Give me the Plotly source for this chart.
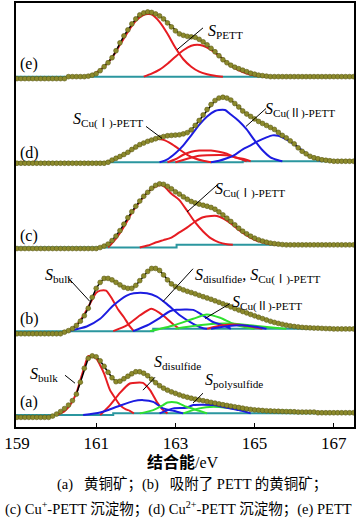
import plotly.graph_objects as go

# ---------------- data ----------------
# binding energy grid of the measured points (eV)
energy = [round(159.0 + 0.1 * i, 1) for i in range(86)]
tick_vals = [159, 161, 163, 165, 167]
tick_text = ["159", "161", "163", "165", "167"]

# measured intensity (dots), relative to each spectrum's left baseline (a.u.)
dots_a = [-2.3, -2.3, -2.3, -2.3, -2.3, -2.3, -2.3, -2.3, -2.3,
          -1, 1, 3.5, 6.5, 10, 14.5, 21, 33, 47, 57, 59.5, 58.5, 54.5, 49, 43, 37.5,
          33.5, 34, 36.5, 39, 41.5, 43.5, 43.5, 42, 39.5, 36, 32.5, 29.5, 27, 25, 23.3,
          21.8, 20.3, 19, 17.9, 16.9, 16, 15.2, 14.4, 13.6, 12.8, 12, 11.2, 10.4, 9.7,
          9, 8.3, 7.6, 6.9, 6.2, 5.7, 5.2, 4.9, 4.6, 4.3, 4.1, 3.9, 3.8, 3.6, 3.5, 3.4, 3.3,
          3, 3, 3, 3, 3,
          2.3, 2.3, 2.3, 2.3, 2.3, 2.3, 2.3, 2.3, 2.3, 2.3]
dots_b = [-2.6, -2.6, -2.6, -2.6, -2.6, -2.6, -2.6, -2.6, -2.6, -2.6, -2.6, -2.6,
          -1, 0.5, 2.5, 5.7, 10, 15.5, 23, 34, 43, 49, 53, 53, 51.5, 49, 46.5, 44, 43,
          43, 46, 50.7, 55.5, 60, 63, 63, 61, 56.5, 51.5, 47.5, 44.8, 43, 41.5, 40, 38.8,
          37.5, 36, 34.6, 33.3, 32, 30.5, 29, 27.5, 26, 24.3, 22.7, 21.2, 19.7, 18.3,
          16.8, 15.4, 14, 12.6, 11.2, 9.9, 8.8, 7.8, 6.9, 6, 5.3, 4.7, 4.2, 3.8, 3.5,
          3.3, 3.1, 3, 2.8, 2.6, 2.5,
          2.2, 2.2, 2.2, 2.2, 2.2, 2.2]
dots_c = [-1, -1, -1, -1, -1, -1, -1, -1, -1, -1, -1, -1, -1, -1, -1, -1, -1, -1, -1, -1, -1,
          0, 1.5, 3.5, 7, 11.5, 17, 23.5, 30, 36, 41.5, 46.7, 51.5, 55.5, 59.5, 62.5, 64,
          63.5, 61.5, 59, 56, 53.7, 51, 48.5, 46.3, 44.8, 43.6, 42.5, 41.5, 40.3, 38.5,
          35.8, 32.8, 29.5, 26.2, 22.8, 19.4, 16.4, 13.8, 11.4, 9.4, 7.8, 6.5, 5.4, 4.5,
          3.9, 3.4, 3,
          2.7, 2.7, 2.7, 2.7, 2.7, 2.7, 2.7, 2.7, 2.7, 2.7, 2.7, 2.7, 2.7, 2.7, 2.7, 2.7, 2.7, 2.7]
dots_d = [-1, -1, -1, -1, -1, -1, -1, -1, -1, -1, -1, -1, -1, -1, -1, -1, -1, -1, -1, -1,
          -1, -1, -1,
          0, 2.2, 4, 5.8, 7.8, 10, 12.8, 15.3, 17.7, 19.3, 21, 22.3, 23.6, 24.8, 25.8,
          26.6, 27, 27.3, 27.6, 28.5, 29.8, 32.5, 37, 42, 47.5, 53, 58, 62, 64.5, 65.3,
          64.5, 62.5, 59, 55.5, 51.5, 48.5, 46, 43.5, 41, 39, 37, 35, 33, 30, 27, 24.5,
          21.5, 18.5, 14.5, 11, 8.5, 6, 4.5, 3.5, 2.5, 2, 1.5, 1,
          1, 1, 1, 1, 1]
dots_e = [-2, -2, -2, -2, -2, -2, -2, -2, -2, -2, -2, -2, -2,
          0, 0, 0, 0, 0,
          0.5, 1.5, 3, 6, 10, 14, 19, 26, 34, 41, 47, 53, 58, 62, 64, 65, 64.5, 63, 61,
          58, 54, 50, 46, 43, 41.5, 40.5, 40, 39.5, 37.5, 35, 32, 28.5, 25, 21, 17, 14,
          11.5, 9.5, 8, 6.5, 5, 3.5, 2.5, 1.5, 1, 0.5,
          0, 0, 0, 0, 0, 0, 0, 0, 0, 0, 0, 0, 0, 0, 0, 0, 0, 0, 0, 0, 0, 0]

# Shirley-type background: (energy of step, step height)
bg_a = (161.43, 1.7)
bg_b = (162.44, 2.4)
bg_c = (163.03, 2.7)
bg_d = (164.70, 1.0)
bg_e = (167.60, 0.0)

# fitted envelope range (eV)
fit_a = (160.5, 165.2)
fit_b = (160.2, 166.6)
fit_c = (161.1, 165.8)
fit_d = (161.3, 166.8)
fit_e = (160.8, 165.3)

# fitted components: (eV, height above background)
a_bulk = [(160.0, 0), (160.2, 4), (160.34, 10), (160.5, 22), (160.6, 35), (160.7, 48),
          (160.8, 59.3), (160.9, 58.5), (161.0, 57), (161.1, 50), (161.2, 41.7),
          (161.35, 25), (161.5, 14), (161.6, 8.3), (161.75, 4), (161.85, 2.6), (161.95, 0)]
a_disulf = [(161.1, 0), (161.35, 10), (161.6, 20.6), (161.85, 30), (161.93, 30.6),
            (162.18, 30.6), (162.36, 23.3), (162.53, 11.6), (162.69, 3.3), (162.8, 0)]
a_blue1 = [(160.67, 0), (161.1, 2.6), (161.52, 6.6), (161.94, 12.3), (162.19, 13.3),
           (162.44, 11.6), (162.69, 5), (162.95, 2.6), (163.2, 0)]
a_green1 = [(162.1, 0), (162.44, 3.3), (162.69, 8.3), (162.8, 11), (163.03, 11),
            (163.28, 6.6), (163.6, 2.6), (163.8, 0)]
a_blue2 = [(162.6, 0), (162.95, 5), (163.28, 5.6), (163.45, 8.3), (163.96, 8.3),
           (164.3, 5.6), (164.6, 3.3), (164.9, 0)]
a_green2 = [(163.2, 0), (163.6, 5), (163.96, 6.6), (164.46, 5), (164.9, 3.3),
            (165.4, 2.6), (165.9, 2.6), (166.3, 0)]

b_bulk = [(160.3, 0), (160.5, 6), (160.7, 17), (160.85, 28), (161.0, 38.5), (161.1, 40.7),
          (161.25, 40.7), (161.4, 32.5), (161.55, 22), (161.7, 14), (161.85, 4.7), (161.95, 0)]
b_blue1 = [(160.3, 0), (160.5, 2), (160.76, 4.7), (161.1, 12.4), (161.43, 25.7),
           (161.77, 35.7), (161.95, 38), (162.28, 38), (162.53, 32.3), (162.78, 25),
           (163.12, 13.3), (163.45, 5), (163.7, 0.6), (163.8, 0)]
b_red2 = [(161.43, 0), (161.77, 5.7), (162.1, 15.7), (162.4, 22.4), (162.69, 13.3),
          (162.95, 4.3), (163.1, 0)]
b_blue2 = [(161.93, 0), (162.28, 5.7), (162.61, 11), (162.86, 17.6), (163.03, 19),
           (163.45, 19), (163.7, 13.3), (163.96, 6.6), (164.21, 3.3), (164.4, 0)]
b_green1 = [(162.36, 0), (162.95, 3.3), (163.45, 10), (163.79, 14.3), (164.13, 11),
            (164.46, 5), (164.8, 1.3), (165.0, 0)]
b_green2 = [(163.0, 0), (163.5, 3), (164.0, 5), (164.5, 5), (165.0, 3), (165.5, 1), (165.8, 0)]
b_red3 = [(163.8, 0), (164.2, 3.5), (164.6, 4), (165.0, 1.5), (165.2, 0)]
b_blue3 = [(163.9, 0), (164.3, 2.5), (164.7, 3.5), (165.1, 1.5), (165.3, 0)]

c_red1 = [(161.3, 0), (161.5, 9), (161.7, 21), (161.9, 35), (162.1, 46), (162.3, 55.5),
          (162.5, 61.5), (162.6, 62.7), (162.7, 62), (162.9, 54), (163.1, 45), (163.3, 34),
          (163.5, 22.5), (163.7, 13.5), (163.9, 6.5), (164.1, 2.5), (164.3, 0.5), (164.45, 0)]
c_red2 = [(162.1, 0), (162.3, 2), (162.5, 5), (162.7, 7.5), (162.9, 10), (163.1, 12.5),
          (163.3, 17.5), (163.5, 23.5), (163.7, 27.8), (163.9, 29), (164.05, 29),
          (164.2, 26.5), (164.4, 21.5), (164.6, 15), (164.8, 9.5), (165.0, 5), (165.2, 2.5),
          (165.4, 0.8), (165.55, 0)]

d_red1 = [(161.3, 0), (161.5, 3.5), (161.7, 7.5), (161.9, 12.5), (162.1, 17.5), (162.3, 21.5),
          (162.5, 23.7), (162.7, 22.5), (162.9, 18.5), (163.1, 13), (163.3, 7.5), (163.5, 3.8),
          (163.7, 1.5), (163.9, 0)]
d_blue1 = [(162.6, 0), (162.8, 3), (163.0, 9), (163.2, 17), (163.4, 27), (163.6, 37.5),
           (163.8, 46), (164.0, 51.5), (164.1, 52.5), (164.25, 52.5), (164.4, 48),
           (164.6, 41.5), (164.8, 32), (165.0, 21), (165.2, 11), (165.4, 4), (165.6, 1), (165.7, 0)]
d_blue2 = [(163.9, 0), (164.1, 1.5), (164.3, 4), (164.5, 7.5), (164.7, 12), (164.9, 16),
           (165.1, 20.5), (165.3, 24), (165.45, 26), (165.6, 25.5), (165.8, 22), (166.0, 17),
           (166.2, 11), (166.4, 5), (166.6, 1.5), (166.7, 0)]
d_red2 = [(162.8, 0), (163.0, 3), (163.2, 7.5), (163.4, 10.5), (163.6, 11.7), (163.9, 11.7),
          (164.1, 10.5), (164.3, 8.5), (164.5, 5), (164.7, 1.5), (164.8, 0)]
d_red3 = [(163.0, 0), (163.3, 3.5), (163.6, 6.5), (163.8, 7), (164.3, 7), (164.5, 5),
          (164.7, 2.5), (164.9, 0)]

e_red1 = [(160.8, 0), (161.0, 4), (161.2, 10), (161.4, 19), (161.6, 32), (161.8, 45),
          (162.0, 56), (162.2, 62), (162.3, 63), (162.4, 62.5), (162.6, 55), (162.8, 43),
          (163.0, 29), (163.2, 17.5), (163.4, 10), (163.6, 5), (163.8, 2.5), (164.0, 1), (164.2, 0)]
e_red2 = [(162.2, 0), (162.4, 3), (162.6, 7), (162.8, 13), (163.0, 20), (163.2, 26.5),
          (163.4, 31), (163.55, 32), (163.7, 31), (163.9, 27), (164.1, 21), (164.3, 14),
          (164.5, 8.5), (164.7, 4.5), (164.9, 2), (165.1, 1), (165.3, 0)]

# ---------------- layout helpers ----------------
W, H = 360, 524
L, R, T, B = 16, 6, 1, 97
PW, PH = W - L - R, H - T - B
X0, X1 = 158.975, 167.51
Y0, Y1 = 0, 426


def px_x(px):
    return X0 + (px - L) / PW * (X1 - X0)


def px_y(py):
    return Y0 + (T + PH - py) / PH * (Y1 - Y0)


def paper_x(px):
    return (px - L) / PW


def paper_y(py):
    return (T + PH - py) / PH


RED, BLUE, GREEN = "#e61c22", "#1c1ce0", "#2fe02f"
CYAN, DOT = "#2b969f", "#8c8a2c"
FONT = "Liberation Serif, Noto Sans CJK SC, serif"

panels = [
    # offset, dots, background, fit range, components
    (12.0, dots_a, bg_a, fit_a, [(a_bulk, RED), (a_disulf, RED), (a_blue1, BLUE),
                                 (a_green2, GREEN), (a_blue2, BLUE), (a_green1, GREEN)]),
    (96.3, dots_b, bg_b, fit_b, [(b_bulk, RED), (b_blue1, BLUE), (b_red2, RED),
                                 (b_green2, GREEN), (b_blue2, BLUE), (b_green1, GREEN),
                                 (b_red3, RED), (b_blue3, BLUE)]),
    (180.3, dots_c, bg_c, fit_c, [(c_red1, RED), (c_red2, RED)]),
    (266.0, dots_d, bg_d, fit_d, [(d_red1, RED), (d_red2, RED), (d_red3, RED),
                                  (d_blue1, BLUE), (d_blue2, BLUE)]),
    (352.0, dots_e, bg_e, fit_e, [(e_red1, RED), (e_red2, RED)]),
]

fig = go.Figure()

for off, dots, bg, fit, comps in panels:
    assert len(dots) == len(energy)

    def bgv(x, bg=bg):
        return bg[1] if x >= bg[0] else 0.0

    # background line
    fig.add_trace(go.Scatter(x=[X0, bg[0], bg[0], X1],
                             y=[off, off, off + bg[1], off + bg[1]],
                             mode="lines", line=dict(color=CYAN, width=2),
                             hoverinfo="skip"))
    # components
    for comp, col in comps:
        fig.add_trace(go.Scatter(x=[p[0] for p in comp],
                                 y=[off + bgv(p[0]) + p[1] for p in comp],
                                 mode="lines",
                                 line=dict(color=col, width=2, shape="spline", smoothing=0.6),
                                 hoverinfo="skip"))
    # envelope
    ex = [e for e in energy if fit[0] <= e <= fit[1]]
    ey = [off + v for e, v in zip(energy, dots) if fit[0] <= e <= fit[1]]
    fig.add_trace(go.Scatter(x=ex, y=ey, mode="lines",
                             line=dict(color="black", width=1.5), hoverinfo="skip"))
    # measured points
    fig.add_trace(go.Scatter(x=energy, y=[off + v for v in dots], mode="markers",
                             marker=dict(size=4.8, color=DOT,
                                         line=dict(color="#5c5a16", width=0.6)),
                             hoverinfo="skip"))

# ---------------- annotations ----------------
labels = [  # text, left px, centre py
    ("<i>S</i><sub>PETT</sub>", 206, 30),
    ("<i>S</i><sub>Cu(Ⅰ)-PETT</sub>", 71, 119),
    ("<i>S</i><sub>Cu(Ⅱ)-PETT</sub>", 263, 108),
    ("<i>S</i><sub>Cu(Ⅰ)-PETT</sub>", 213, 189),
    ("<i>S</i><sub>bulk</sub>", 43, 275),
    ("<i>S</i><sub>disulfide</sub>, <i>S</i><sub>Cu(Ⅰ)-PETT</sub>", 193, 275),
    ("<i>S</i><sub>Cu(Ⅱ)-PETT</sub>", 230, 302),
    ("<i>S</i><sub>bulk</sub>", 28, 374),
    ("<i>S</i><sub>disulfide</sub>", 152, 362),
    ("<i>S</i><sub>polysulfide</sub>", 203, 380),
]
leaders = [  # (px0, py0, px1, py1)
    (203, 26, 177, 48),
    (146, 125, 162, 137),
    (266, 107, 246, 125),
    (217, 184, 187, 211),
    (68, 277, 90, 301),
    (193, 268, 163, 301),
    (230, 303, 205, 318),
    (65, 375, 75, 383),
    (155, 377, 143, 390),
    (203, 393, 193, 403),
]
panel_tags = [("(e)", 62), ("(d)", 151.5), ("(c)", 235), ("(b)", 318.5), ("(a)", 401.5)]

annotations = []
for txt, lx, cy in labels:
    annotations.append(dict(x=px_x(lx), y=px_y(cy), xref="x", yref="y", text=txt,
                            showarrow=False, xanchor="left", yanchor="middle",
                            font=dict(family=FONT, size=16, color="black")))
for tag, cy in panel_tags:
    annotations.append(dict(x=px_x(18), y=px_y(cy), xref="x", yref="y", text=tag,
                            showarrow=False, xanchor="left", yanchor="middle",
                            font=dict(family=FONT, size=16, color="black")))

annotations.append(dict(x=paper_x(183), y=paper_y(462), xref="paper", yref="paper",
                        text="<b>结合能</b>/eV", showarrow=False, xanchor="center",
                        yanchor="middle", font=dict(family=FONT, size=16, color="black")))
annotations.append(dict(x=paper_x(192), y=paper_y(485), xref="paper", yref="paper",
                        text="(a)\u00a0\u00a0 黄铜矿；(b)\u00a0\u00a0 吸附了 PETT 的黄铜矿；",
                        showarrow=False, xanchor="center", yanchor="middle",
                        font=dict(family=FONT, size=14.5, color="black")))
annotations.append(dict(x=paper_x(178), y=paper_y(509), xref="paper", yref="paper",
                        text="(c) Cu<sup>+</sup>-PETT 沉淀物；(d) Cu<sup>2+</sup>-PETT 沉淀物；(e) PETT",
                        showarrow=False, xanchor="center", yanchor="middle",
                        font=dict(family=FONT, size=14.5, color="black")))

shapes = [dict(type="line", xref="x", yref="y", x0=px_x(a), y0=px_y(b), x1=px_x(c), y1=px_y(d),
               line=dict(color="black", width=1)) for a, b, c, d in leaders]

fig.update_layout(
    width=W, height=H, margin=dict(l=L, r=R, t=T, b=B),
    paper_bgcolor="white", plot_bgcolor="white", showlegend=False,
    annotations=annotations, shapes=shapes,
    xaxis=dict(range=[X0, X1], tickvals=tick_vals, ticktext=tick_text, ticks="inside",
               ticklen=4, tickwidth=1.2, tickcolor="black", showgrid=False, zeroline=False,
               showline=True, mirror=True, linecolor="black", linewidth=1.5,
               tickfont=dict(family=FONT, size=17, color="black")),
    yaxis=dict(range=[Y0, Y1], showticklabels=False, ticks="", showgrid=False,
               zeroline=False, showline=True, mirror=True, linecolor="black", linewidth=1.5),
)

fig.write_html("out.html", config={"displayModeBar": False},
               post_script="document.body.style.margin='0';document.body.style.padding='0';")
